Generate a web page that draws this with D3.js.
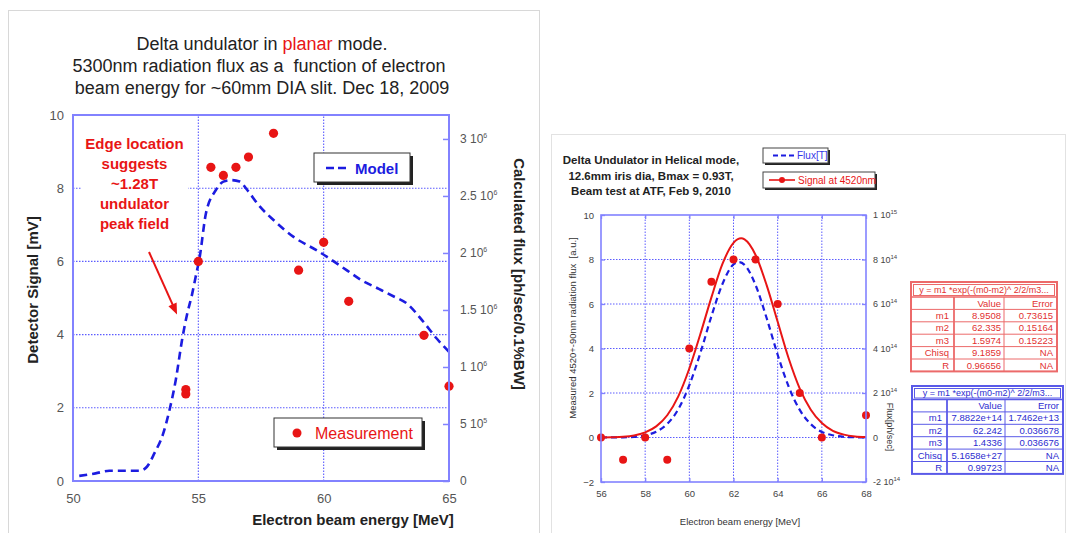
<!DOCTYPE html>
<html><head><meta charset="utf-8">
<script src="https://cdn.jsdelivr.net/npm/d3@7"></script>
<style>body{margin:0;background:#fff;} svg{display:block;font-family:"Liberation Sans",Arial,Helvetica,sans-serif;}</style>
</head><body><svg id="c" width="1068" height="533"></svg>
<script>
// ---------- Left chart (planar mode) data ----------
const planarModelEnergy = [50.25,50.9,51.45,52.65,52.95,53.25,53.6,53.85,54.1,54.35,54.55,54.75,54.9,55.05,55.3,55.7,56.0,56.3,56.65,56.95,57.45,58.0,58.8,59.8,60.9,61.5,62.2,62.8,63.3,64.0,64.5,65.0];
const planarModelFlux = [0.045e6,0.067e6,0.090e6,0.090e6,0.125e6,0.244e6,0.417e6,0.623e6,0.886e6,1.236e6,1.461e6,1.637e6,1.798e6,1.958e6,2.343e6,2.552e6,2.626e6,2.639e6,2.626e6,2.552e6,2.408e6,2.289e6,2.141e6,2.013e6,1.852e6,1.762e6,1.685e6,1.618e6,1.560e6,1.390e6,1.252e6,1.133e6];
const planarMeasEnergy = [54.5,54.5,55,55.5,56,56.5,57,58,59,60,61,64,65];
const planarMeasSignal = [2.5,2.38,6.0,8.57,8.35,8.57,8.85,9.5,5.76,6.52,4.91,3.98,2.59];
const planarXTicks = [50,55,60,65];
const planarYTicks = [0,2,4,6,8,10];
const planarFluxTicks = [0,0.5e6,1e6,1.5e6,2e6,2.5e6,3e6];
const planarFluxTickBase = ["0","5 10","1 10","1.5 10","2 10","2.5 10","3 10"];
const planarFluxTickExp = ["","5","6","6","6","6","6"];

// ---------- Right chart (helical mode) data ----------
const helicalSignalEnergy = [56,56.5,57,57.5,58,58.5,59,59.5,60,60.5,61,61.5,62,62.35,62.5,63,63.5,64,64.5,65,65.5,66,66.5,67,67.5,68];
const helicalSignalFit = [0.003,0.01,0.03,0.09,0.23,0.5,1.0,1.85,3.1,4.65,6.3,7.8,8.75,8.95,8.9,8.2,6.85,5.2,3.55,2.2,1.25,0.65,0.3,0.13,0.05,0.02];
const helicalFluxEnergy = [56,56.5,57,57.5,58,58.5,59,59.5,60,60.5,61,61.5,62,62.25,62.5,63,63.5,64,64.5,65,65.5,66,66.5,67,67.5,68];
const helicalFluxFit = [0.001e14,0.003e14,0.01e14,0.03e14,0.1e14,0.26e14,0.61e14,1.27e14,2.35e14,3.8e14,5.45e14,6.9e14,7.78e14,7.88e14,7.76e14,6.85e14,5.37e14,3.72e14,2.28e14,1.24e14,0.6e14,0.25e14,0.1e14,0.03e14,0.01e14,0.003e14];
const helicalMeasEnergy = [56,57,58,59,60,61,62,63,64,65,66,68];
const helicalMeasSignal = [0,-1,0,-1,4,7,8,8,6,2,0,1];
const helicalXTicks = [56,58,60,62,64,66,68];
const helicalYTicks = [-2,0,2,4,6,8,10];
const helicalFluxTicks = [-2e14,0,2e14,4e14,6e14,8e14,1e15];
const helicalFluxTickBase = ["-2 10","0","2 10","4 10","6 10","8 10","1 10"];
const helicalFluxTickExp = ["14","","14","14","14","14","15"];

const fitTitle = "y = m1 *exp(-(m0-m2)^ 2/2/m3...";
const signalFitRows = [["","Value","Error"],["m1","8.9508","0.73615"],["m2","62.335","0.15164"],["m3","1.5974","0.15223"],["Chisq","9.1859","NA"],["R","0.96656","NA"]];
const fluxFitRows = [["","Value","Error"],["m1","7.8822e+14","1.7462e+13"],["m2","62.242","0.036678"],["m3","1.4336","0.036676"],["Chisq","5.1658e+27","NA"],["R","0.99723","NA"]];

const svg = d3.select("#c");
const RED = "#e81515", BLUE = "#1c1ce0", AXIS = "#8282ff", GRID = "#5c5cff";

// panel frames
svg.append("rect").attr("x",8.5).attr("y",10.5).attr("width",531).attr("height",540).attr("fill","none").attr("stroke","#d8d8d8");
svg.append("rect").attr("x",551.5).attr("y",134.5).attr("width",514).attr("height",420).attr("fill","none").attr("stroke","#e2e2e2");

// ================= LEFT CHART =================
const L = {x0:73,x1:449,y0:481,y1:115};
const xL = d3.scaleLinear().domain([50,65]).range([L.x0,L.x1]);
const yL = d3.scaleLinear().domain([0,10]).range([L.y0,L.y1]);
const yLr = d3.scaleLinear().domain([0,3.21e6]).range([L.y0,L.y1]);
const gL = svg.append("g");

// title
const TF = 18;
const t1 = gL.append("text").attr("x",262).attr("y",50).attr("text-anchor","middle").attr("font-size",TF).attr("fill","#222");
t1.append("tspan").text("Delta undulator in ");
t1.append("tspan").attr("fill",RED).text("planar");
t1.append("tspan").text(" mode.");
gL.append("text").attr("x",259).attr("y",72).attr("text-anchor","middle").attr("font-size",TF).attr("fill","#222").attr("xml:space","preserve").text("5300nm radiation flux as a  function of electron");
gL.append("text").attr("x",262).attr("y",94).attr("text-anchor","middle").attr("font-size",TF).attr("fill","#222").text("beam energy for ~60mm DIA slit. Dec 18, 2009");

// grid
gL.selectAll(".hg").data(planarYTicks.filter(v=>v>0&&v<10)).join("line")
  .attr("x1",L.x0).attr("x2",L.x1).attr("y1",d=>yL(d)).attr("y2",d=>yL(d))
  .attr("stroke",GRID).attr("stroke-width",1.1).attr("stroke-dasharray","1.5,1.5");
gL.selectAll(".vg").data(planarXTicks.filter(v=>v>50&&v<65)).join("line")
  .attr("y1",L.y0).attr("y2",L.y1).attr("x1",d=>xL(d)).attr("x2",d=>xL(d))
  .attr("stroke",GRID).attr("stroke-width",1.1).attr("stroke-dasharray","1.5,1.5");

// axes
const axL = gL.append("g").attr("transform",`translate(${L.x0},0)`).call(d3.axisLeft(yL).tickValues(planarYTicks).tickSize(0).tickPadding(9));
const axB = gL.append("g").attr("transform",`translate(0,${L.y0})`).call(d3.axisBottom(xL).tickValues(planarXTicks).tickSize(0).tickPadding(13));
const axR = gL.append("g").attr("transform",`translate(${L.x1},0)`).call(d3.axisRight(yLr).tickValues(planarFluxTicks).tickSize(-6).tickPadding(11));
[axL,axB,axR].forEach(a=>{a.select(".domain").remove(); a.selectAll("text").attr("font-size",13).attr("fill","#555").attr("font-family",null);});
axR.selectAll("line").attr("stroke",AXIS).attr("stroke-width",1.5);
axR.selectAll("text").attr("font-size",12).each(function(d,i){
  const t = d3.select(this); t.text(null);
  t.append("tspan").text(planarFluxTickBase[i]);
  if (planarFluxTickExp[i]) t.append("tspan").attr("font-size",7).attr("dy",-5).text(planarFluxTickExp[i]);
});

// annotation
gL.append("rect").attr("x",82).attr("y",131).attr("width",106).attr("height",103).attr("fill","#fff");
["Edge location","suggests","~1.28T","undulator","peak field"].forEach((s,i)=>{
  gL.append("text").attr("x",134.5).attr("y",148.5+i*20).attr("text-anchor","middle").attr("font-size",15).attr("font-weight","bold").attr("fill",RED).text(s);
});
const ax0=149, ay0=252, ax1=xL(54.15), ay1=yL(4.55);
const ang = Math.atan2(ay1-ay0, ax1-ax0);
gL.append("line").attr("x1",ax0).attr("y1",ay0).attr("x2",ax1-8*Math.cos(ang)).attr("y2",ay1-8*Math.sin(ang)).attr("stroke",RED).attr("stroke-width",2);
const ah = [[ax1,ay1],[ax1-11*Math.cos(ang)+4.5*Math.sin(ang), ay1-11*Math.sin(ang)-4.5*Math.cos(ang)],[ax1-11*Math.cos(ang)-4.5*Math.sin(ang), ay1-11*Math.sin(ang)+4.5*Math.cos(ang)]];
gL.append("path").attr("d","M"+ah.map(p=>p.join(",")).join("L")+"Z").attr("fill",RED);

// model legend box
gL.append("rect").attr("x",317).attr("y",156).attr("width",96).attr("height",29).attr("fill","#222");
gL.append("rect").attr("x",314).attr("y",153).attr("width",96).attr("height",29).attr("fill","#fff").attr("stroke","#333").attr("stroke-width",1);
gL.append("line").attr("x1",326).attr("x2",350).attr("y1",168).attr("y2",168).attr("stroke",BLUE).attr("stroke-width",2.5).attr("stroke-dasharray","8,4");
gL.append("text").attr("x",355).attr("y",173.5).attr("font-size",15).attr("font-weight","bold").attr("fill",BLUE).text("Model");

// measurement legend box
gL.append("rect").attr("x",277).attr("y",421).attr("width",148).attr("height",29).attr("fill","#222");
gL.append("rect").attr("x",274).attr("y",418).attr("width",148).attr("height",29).attr("fill","#fff").attr("stroke","#333").attr("stroke-width",1);
gL.append("circle").attr("cx",297).attr("cy",433).attr("r",4.5).attr("fill",RED);
gL.append("text").attr("x",315).attr("y",438.5).attr("font-size",16).attr("fill",RED).text("Measurement");

// model curve
const modelLine = d3.line().x(d=>xL(d[0])).y(d=>yLr(d[1])).curve(d3.curveMonotoneX);
gL.append("path").datum(planarModelEnergy.map((e,i)=>[e,planarModelFlux[i]]))
  .attr("d",modelLine).attr("fill","none").attr("stroke",BLUE).attr("stroke-width",2.6).attr("stroke-dasharray","8,5");

// measurements
gL.selectAll(".pm").data(planarMeasEnergy.map((e,i)=>[e,planarMeasSignal[i]])).join("circle")
  .attr("cx",d=>xL(d[0])).attr("cy",d=>yL(d[1])).attr("r",4.6).attr("fill",RED);

// frame
gL.append("rect").attr("x",L.x0).attr("y",L.y1).attr("width",L.x1-L.x0).attr("height",L.y0-L.y1).attr("fill","none").attr("stroke",AXIS).attr("stroke-width",2);

// axis titles
gL.append("text").attr("transform",`translate(38,290) rotate(-90)`).attr("text-anchor","middle").attr("font-size",15).attr("font-weight","bold").attr("fill","#222").text("Detector Signal [mV]");
gL.append("text").attr("transform",`translate(514,274) rotate(90)`).attr("text-anchor","middle").attr("font-size",15).attr("font-weight","bold").attr("fill","#222").text("Calculated flux [ph/sec/0.1%BW]");
gL.append("text").attr("x",353).attr("y",525).attr("text-anchor","middle").attr("font-size",15).attr("font-weight","bold").attr("fill","#222").text("Electron beam energy [MeV]");

// ================= RIGHT CHART =================
const R = {x0:601,x1:866,y0:482,y1:215};
const xR = d3.scaleLinear().domain([56,68]).range([R.x0,R.x1]);
const yR = d3.scaleLinear().domain([-2,10]).range([R.y0,R.y1]);
const yRr = d3.scaleLinear().domain([-2e14,1e15]).range([R.y0,R.y1]);
const gR = svg.append("g");

["Delta Undulator in Helical mode,","12.6mm iris dia, Bmax = 0.93T,","Beam test at ATF, Feb 9, 2010"].forEach((s,i)=>{
  gR.append("text").attr("x",651).attr("y",164+i*15.5).attr("text-anchor","middle").attr("font-size",11.5).attr("font-weight","bold").attr("fill","#222").text(s);
});

// legends
gR.append("rect").attr("x",765).attr("y",150).attr("width",65).attr("height",15).attr("fill","#222");
gR.append("rect").attr("x",763).attr("y",148).attr("width",65).attr("height",15).attr("fill","#fff").attr("stroke","#444");
gR.append("line").attr("x1",773).attr("x2",794).attr("y1",155.5).attr("y2",155.5).attr("stroke",BLUE).attr("stroke-width",1.8).attr("stroke-dasharray","5,3");
gR.append("text").attr("x",797).attr("y",159).attr("font-size",10).attr("fill","#3535e8").text("Flux[T]");
gR.append("rect").attr("x",765).attr("y",174).attr("width",112).attr("height",16).attr("fill","#222");
gR.append("rect").attr("x",763).attr("y",172).attr("width",112).attr("height",16).attr("fill","#fff").attr("stroke","#444");
gR.append("line").attr("x1",769).attr("x2",795).attr("y1",180).attr("y2",180).attr("stroke",RED).attr("stroke-width",1.6);
gR.append("circle").attr("cx",782).attr("cy",180).attr("r",3).attr("fill",RED);
gR.append("text").attr("x",798).attr("y",184).attr("font-size",10).attr("fill",RED).text("Signal at 4520nm");

// grid
gR.selectAll(".hg").data(helicalYTicks.filter(v=>v>-2&&v<10)).join("line")
  .attr("x1",R.x0).attr("x2",R.x1).attr("y1",d=>yR(d)).attr("y2",d=>yR(d))
  .attr("stroke",GRID).attr("stroke-width",1).attr("stroke-dasharray","1.5,1.5");
gR.selectAll(".vg").data(helicalXTicks.filter(v=>v>56&&v<68)).join("line")
  .attr("y1",R.y0).attr("y2",R.y1).attr("x1",d=>xR(d)).attr("x2",d=>xR(d))
  .attr("stroke",GRID).attr("stroke-width",1).attr("stroke-dasharray","1.5,1.5");

const rL = gR.append("g").attr("transform",`translate(${R.x0},0)`).call(d3.axisLeft(yR).tickValues(helicalYTicks).tickSize(-4).tickPadding(7));
const rB = gR.append("g").attr("transform",`translate(0,${R.y0})`).call(d3.axisBottom(xR).tickValues(helicalXTicks).tickSize(-4).tickPadding(8));
const rT = gR.append("g").attr("transform",`translate(0,${R.y1})`).call(d3.axisTop(xR).tickValues(helicalXTicks).tickSize(-4).tickFormat(""));
const rR = gR.append("g").attr("transform",`translate(${R.x1},0)`).call(d3.axisRight(yRr).tickValues(helicalFluxTicks).tickSize(-4).tickPadding(7));
[rL,rB,rT,rR].forEach(a=>{a.select(".domain").remove(); a.selectAll("line").attr("stroke",AXIS).attr("stroke-width",1.3); a.selectAll("text").attr("font-size",9.5).attr("fill","#444").attr("font-family",null);});
rR.selectAll("text").attr("font-size",9).each(function(d,i){
  const t = d3.select(this); t.text(null);
  t.append("tspan").text(helicalFluxTickBase[i]);
  if (helicalFluxTickExp[i]) t.append("tspan").attr("font-size",6).attr("dy",-4).text(helicalFluxTickExp[i]);
});

// curves
const sigLine = d3.line().x(d=>xR(d[0])).y(d=>yR(d[1])).curve(d3.curveMonotoneX);
const fluxLine = d3.line().x(d=>xR(d[0])).y(d=>yRr(d[1])).curve(d3.curveMonotoneX);
gR.append("path").datum(helicalFluxEnergy.map((e,i)=>[e,helicalFluxFit[i]]))
  .attr("d",fluxLine).attr("fill","none").attr("stroke",BLUE).attr("stroke-width",2.2).attr("stroke-dasharray","6,4");
gR.append("path").datum(helicalSignalEnergy.map((e,i)=>[e,helicalSignalFit[i]]))
  .attr("d",sigLine).attr("fill","none").attr("stroke",RED).attr("stroke-width",2);
gR.selectAll(".hm").data(helicalMeasEnergy.map((e,i)=>[e,helicalMeasSignal[i]])).join("circle")
  .attr("cx",d=>xR(d[0])).attr("cy",d=>yR(d[1])).attr("r",4).attr("fill",RED);

gR.append("rect").attr("x",R.x0).attr("y",R.y1).attr("width",R.x1-R.x0).attr("height",R.y0-R.y1).attr("fill","none").attr("stroke",AXIS).attr("stroke-width",1.6);

gR.append("text").attr("transform",`translate(576,328) rotate(-90)`).attr("text-anchor","middle").attr("font-size",9.5).attr("fill","#333").attr("xml:space","preserve").text("Measured 4520+-90nm radiation flux  [a.u.]");
gR.append("text").attr("transform",`translate(887,427) rotate(90)`).attr("text-anchor","middle").attr("font-size",9).attr("fill","#333").text("Flux[ph/sec]");
gR.append("text").attr("x",740).attr("y",525).attr("text-anchor","middle").attr("font-size",9.5).attr("fill","#333").text("Electron beam energy [MeV]");

// fit tables
function fitTable(x0,x1,top,titleH,rowH,c1,c2,rows,lineCol,textCol){
  const g = svg.append("g");
  const h = titleH + rowH*rows.length;
  g.append("rect").attr("x",x0).attr("y",top).attr("width",x1-x0).attr("height",h).attr("fill","#fff").attr("stroke",lineCol).attr("stroke-width",2);
  g.append("rect").attr("x",x0+2.5).attr("y",top+2.5).attr("width",x1-x0-5).attr("height",titleH-4).attr("fill","none").attr("stroke",lineCol).attr("stroke-width",1);
  g.append("text").attr("x",(x0+x1)/2).attr("y",top+titleH/2+3.5).attr("text-anchor","middle").attr("font-size",9).attr("fill",textCol).text(fitTitle);
  const t0 = top+titleH;
  g.append("line").attr("x1",x0).attr("x2",x1).attr("y1",t0).attr("y2",t0).attr("stroke",lineCol).attr("stroke-width",1.5);
  rows.forEach((r,i)=>{
    const y = t0 + i*rowH;
    if (i>0) g.append("line").attr("x1",x0).attr("x2",x1).attr("y1",y).attr("y2",y).attr("stroke",lineCol).attr("stroke-width",1);
    [[c1-5,r[0]],[c2-3,r[1]],[x1-4,r[2]]].forEach(([x,s])=>{
      g.append("text").attr("x",x).attr("y",y+rowH/2+3.3).attr("text-anchor","end").attr("font-size",9.5).attr("fill",textCol).text(s);
    });
  });
  [c1,c2].forEach(c=>g.append("line").attr("x1",c).attr("x2",c).attr("y1",t0).attr("y2",top+h).attr("stroke",lineCol).attr("stroke-width",c===c1?1.8:1));
}
fitTable(911,1057,282,15,12.4,954,1004,signalFitRows,"#ec6a6a","#e23030");
fitTable(912,1063,386,13.5,12.4,947,1005,fluxFitRows,"#5a5ae8","#2c2cd0");
</script></body></html>
